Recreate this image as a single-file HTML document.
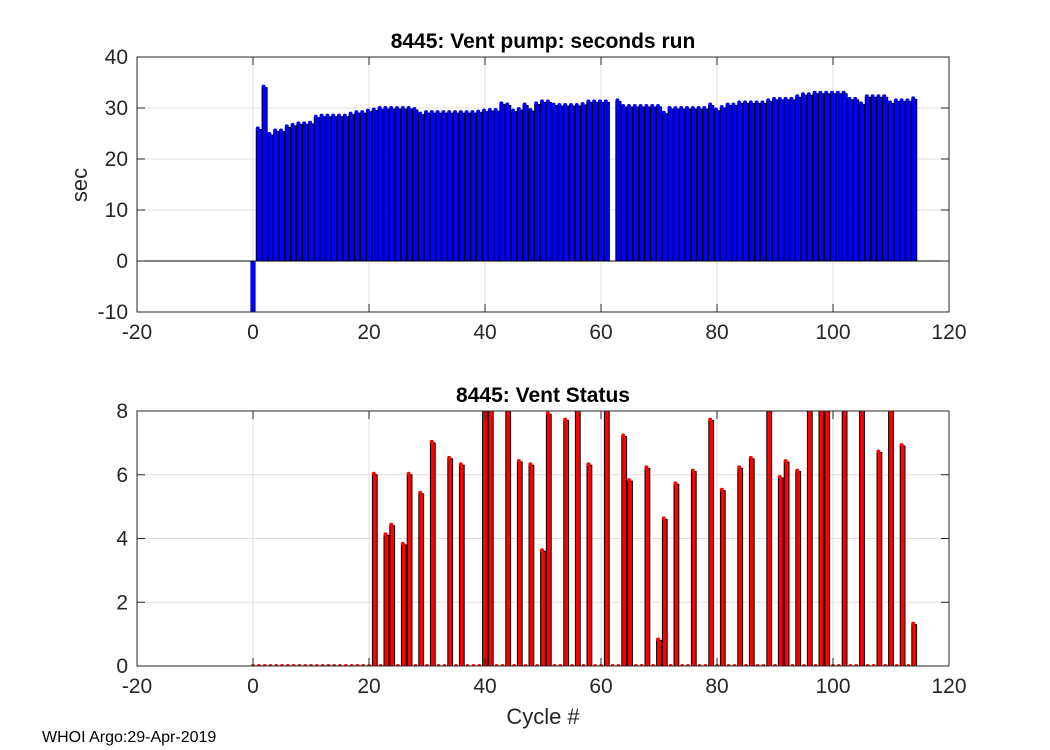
<!DOCTYPE html>
<html><head><meta charset="utf-8"><style>
body{margin:0;background:#fff;}
svg{display:block;font-family:"Liberation Sans",sans-serif;}
</style></head><body>
<svg id="fig" width="1050" height="750" viewBox="0 0 1050 750">
<rect width="1050" height="750" fill="#fff"/>
<g id="top"></g>
<g id="bot"></g>
<text x="42" y="742" font-size="16" fill="#000">WHOI Argo:29-Apr-2019</text>
</svg>
<script>
const xTicks=[-20,0,20,40,60,80,100,120];
const topYTicks=[-10,0,10,20,30,40];
const botYTicks=[0,2,4,6,8];
const pumpCycles=[0,1,2,3,4,5,6,7,8,9,10,11,12,13,14,15,16,17,18,19,20,21,22,23,24,25,26,27,28,29,30,31,32,33,34,35,36,37,38,39,40,41,42,43,44,45,46,47,48,49,50,51,52,53,54,55,56,57,58,59,60,61,63,64,65,66,67,68,69,70,71,72,73,74,75,76,77,78,79,80,81,82,83,84,85,86,87,88,89,90,91,92,93,94,95,96,97,98,99,100,101,102,103,104,105,106,107,108,109,110,111,112,113,114];
const pumpSeconds=[-10,25.8,34.0,24.7,25.4,25.4,26.2,26.5,26.8,26.8,26.9,28.1,28.3,28.3,28.3,28.3,28.3,28.7,29.0,29.0,29.3,29.5,29.8,29.8,29.8,29.8,29.8,29.8,29.6,28.7,29.0,29.0,29.0,29.0,29.0,29.0,29.0,29.0,29.0,29.1,29.3,29.4,29.4,30.7,30.5,29.3,29.6,30.5,29.4,30.7,31.1,31.1,30.5,30.4,30.4,30.4,30.4,30.6,31.1,31.1,31.1,31.1,
31.3,30.2,30.2,30.2,30.2,30.2,30.2,30.2,28.9,29.8,29.8,29.8,29.8,29.8,29.8,29.8,30.5,29.5,30.0,30.5,30.5,30.9,30.9,30.9,30.9,30.9,31.3,31.6,31.6,31.6,31.6,32.1,32.5,32.5,32.8,32.8,32.8,32.8,32.8,32.8,31.6,31.6,30.7,32.1,32.1,32.1,32.1,30.9,31.3,31.3,31.3,31.7];
const statusCycles=[21,23,24,26,27,29,31,34,36,40,41,44,46,48,50,51,54,56,58,61,64,65,68,70,71,73,76,79,81,84,86,89,91,92,94,96,98,99,102,105,108,110,112,114];
const statusValues=[6.0,4.1,4.4,3.8,6.0,5.4,7.0,6.5,6.3,9,9,9,6.4,6.3,3.6,7.9,7.7,9,6.3,9,7.2,5.8,6.2,0.8,4.6,5.7,6.1,7.7,5.5,6.2,6.5,9,5.9,6.4,6.1,9,9,9,9,9,6.7,9,6.9,1.3];
const NS='http://www.w3.org/2000/svg';
function mk(p,t,a){const e=document.createElementNS(NS,t);for(const k in a)e.setAttribute(k,a[k]);p.appendChild(e);return e;}
const L=137,R=949;
const sx=v=>L+(v+20)/140*(R-L);
function axes(g,T,B,ymin,ymax,yt){
  const sy=v=>B-(v-ymin)/(ymax-ymin)*(B-T);
  mk(g,'rect',{x:L,y:T,width:R-L,height:B-T,fill:'#fff'});
  for(const t of xTicks){const l=mk(g,'line',{x1:sx(t),x2:sx(t),y1:T,y2:B,stroke:'#dfdfdf'});}
  for(const t of yt){const l=mk(g,'line',{x1:L,x2:R,y1:sy(t),y2:sy(t),stroke:'#dfdfdf'});}
  return sy;
}
function frame(g,T,B,yt,sy,title,name){
  mk(g,'rect',{x:L,y:T,width:R-L,height:B-T,fill:'none',stroke:'#262626','stroke-width':1});
  for(const t of xTicks){
    mk(g,'line',{x1:sx(t),x2:sx(t),y1:B,y2:B-8,stroke:'#262626'});
    mk(g,'line',{x1:sx(t),x2:sx(t),y1:T,y2:T+8,stroke:'#262626'});
    const tx=mk(g,'text',{x:sx(t),y:B+27,'text-anchor':'middle','font-size':21,fill:'#262626'});tx.textContent=t;
    
  }
  for(const t of yt){
    mk(g,'line',{x1:L,x2:L+8,y1:sy(t),y2:sy(t),stroke:'#262626'});
    mk(g,'line',{x1:R,x2:R-8,y1:sy(t),y2:sy(t),stroke:'#262626'});
    const tx=mk(g,'text',{x:L-9,y:sy(t)+7,'text-anchor':'end','font-size':21,fill:'#262626'});tx.textContent=t;
    
  }
  const tt=mk(g,'text',{x:(L+R)/2,y:T-9,'text-anchor':'middle','font-size':21,'font-weight':'bold',fill:'#000'});tt.textContent=title;
  
}
// top
const gt=document.getElementById('top');
const T1=57,B1=312;
const sy1=axes(gt,T1,B1,-10,40,topYTicks);
const cp1=mk(gt,'clipPath',{id:'c1'});mk(cp1,'rect',{x:L,y:T1,width:R-L,height:B1-T1});
const bt=mk(gt,'g',{'clip-path':'url(#c1)'});
pumpCycles.forEach((c,i)=>{
  const v=pumpSeconds[i],x=sx(c),y0=sy1(0),y=sy1(v);
  const r=mk(bt,'rect',{x:x-2.6,y:Math.min(y,y0),width:5.2,height:Math.abs(y0-y),fill:'#0000ff',stroke:v>0?'#000':'none','stroke-width':0.9});
  
  if(v>0)mk(bt,'circle',{cx:x-1,cy:y-1,r:2,fill:'#0000ff'});
});
mk(gt,'line',{x1:L,x2:R,y1:sy1(0),y2:sy1(0),stroke:'#000'});
frame(gt,T1,B1,topYTicks,sy1,'8445: Vent pump: seconds run','top-title');
const yl=mk(gt,'text',{x:0,y:0,transform:'translate(87,185) rotate(-90)','text-anchor':'middle','font-size':22,fill:'#262626'});yl.textContent='sec';

// bottom
const gb=document.getElementById('bot');
const T2=411,B2=666;
const sy2=axes(gb,T2,B2,0,8,botYTicks);
const cp=mk(gb,'clipPath',{id:'c2'});mk(cp,'rect',{x:L,y:T2,width:R-L,height:B2-T2});
const bb=mk(gb,'g',{'clip-path':'url(#c2)'});
for(let c=0;c<=114;c++){
  if(statusCycles.indexOf(c)<0){const d=mk(bb,'circle',{cx:sx(c),cy:B2,r:2,fill:'#ff0000'});}
}
statusCycles.forEach((c,i)=>{
  const v=statusValues[i],x=sx(c),y=sy2(v);
  const r=mk(bb,'rect',{x:x-2.4,y:y,width:4.8,height:B2-y,fill:'#ff0000',stroke:'#000','stroke-width':1});
  
  mk(bb,'circle',{cx:x-1,cy:y-1,r:2,fill:'#ff0000'});
});
frame(gb,T2,B2,botYTicks,sy2,'8445: Vent Status','bottom-title');
const xl=mk(gb,'text',{x:(L+R)/2,y:724,'text-anchor':'middle','font-size':22,fill:'#262626'});xl.textContent='Cycle #';

</script>
</body></html>
